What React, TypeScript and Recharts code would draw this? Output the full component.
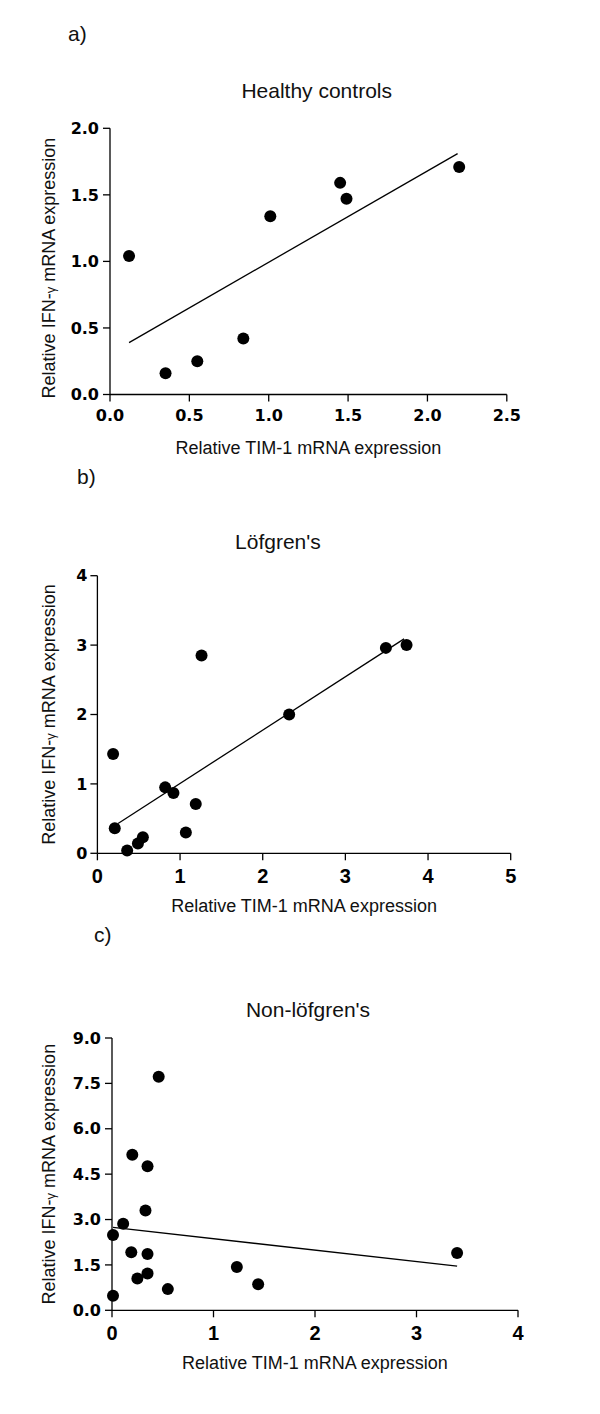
import React from 'react'
import { ScatterChart, Scatter, XAxis, YAxis, ReferenceLine } from 'recharts'

document.body.style.margin = '0'
document.body.style.background = '#fff'

// a) Healthy controls
const healthyTim = [0.12, 0.35, 0.55, 0.84, 1.01, 1.45, 1.49, 2.2]
const healthyIfn = [1.04, 0.16, 0.25, 0.42, 1.34, 1.59, 1.47, 1.71]
const healthyFitX = [0.12, 2.19]
const healthyFitY = [0.39, 1.81]

// b) Löfgren's
const lofgrenTim = [0.19, 0.21, 0.36, 0.49, 0.55, 0.82, 0.92, 1.07, 1.19, 1.26, 2.32, 3.49, 3.74]
const lofgrenIfn = [1.43, 0.36, 0.04, 0.14, 0.23, 0.95, 0.87, 0.3, 0.71, 2.85, 2.0, 2.96, 3.0]
const lofgrenFitX = [0.25, 3.71]
const lofgrenFitY = [0.43, 3.09]

// c) Non-löfgren's
const nonLofgrenTim = [0.46, 0.2, 0.35, 0.33, 0.11, 0.01, 0.19, 0.35, 0.35, 0.25, 0.55, 0.01, 1.23, 1.44, 3.4]
const nonLofgrenIfn = [7.72, 5.14, 4.76, 3.3, 2.86, 2.49, 1.92, 1.86, 1.22, 1.05, 0.7, 0.48, 1.43, 0.86, 1.89]
const nonLofgrenFitX = [0.01, 3.4]
const nonLofgrenFitY = [2.74, 1.46]

const healthyXTicks = [0, 0.5, 1, 1.5, 2, 2.5]
const healthyYTicks = [0, 0.5, 1, 1.5, 2]
const lofgrenXTicks = [0, 1, 2, 3, 4, 5]
const lofgrenYTicks = [0, 1, 2, 3, 4]
const nonLofgrenXTicks = [0, 1, 2, 3, 4]
const nonLofgrenYTicks = [0, 1.5, 3, 4.5, 6, 7.5, 9]

const zip = (xs: number[], ys: number[]) => xs.map((x, i) => ({ x, y: ys[i] }))

const SANS = '"Liberation Sans", Arial, sans-serif'
const WIDE_BOLD = '"DejaVu Sans", sans-serif'
const AXIS_STROKE = { stroke: '#000', strokeWidth: 1.3 }

const Dot = (props: any) => <circle cx={props.cx} cy={props.cy} r={6} fill="#000" />

interface TickFont {
  family: string
  size: number
}

interface PanelProps {
  top: number
  height: number
  plot: { left: number; right: number; top: number; bottom: number }
  xMax: number
  yMax: number
  xTicks: number[]
  yTicks: number[]
  decimals: number
  xFont: TickFont
  yFont: TickFont
  yTickMargin: number
  yTitleShift: number
  points: { x: number; y: number }[]
  fit: { x: number; y: number }[]
}

function Panel(p: PanelProps) {
  const fmtX = (v: number) => (p.decimals ? v.toFixed(1) : String(v))
  const fmtY = (v: number) => (p.yTicks[1] % 1 ? v.toFixed(1) : String(v))
  return (
    <div style={{ position: 'absolute', left: 0, top: p.top }}>
      <ScatterChart
        width={600}
        height={p.height}
        margin={{
          top: p.plot.top,
          right: 600 - p.plot.right,
          left: p.plot.left - 60,
          bottom: p.height - p.plot.bottom - 40,
        }}
      >
        <XAxis
          type="number"
          dataKey="x"
          domain={[0, p.xMax]}
          ticks={p.xTicks}
          tickFormatter={fmtX}
          height={40}
          tickSize={7}
          tickMargin={8}
          axisLine={AXIS_STROKE}
          tickLine={AXIS_STROKE}
          tick={{ fill: '#000', fontSize: p.xFont.size, fontFamily: p.xFont.family, fontWeight: 'bold' }}
          label={{
            content: ({ viewBox }: any) => (
              <text
                x={viewBox.x + viewBox.width / 2}
                y={viewBox.y + 59}
                textAnchor="middle"
                fontFamily={SANS}
                fontSize={18}
                fill="#111"
              >
                Relative TIM-1 mRNA expression
              </text>
            ),
          }}
        />
        <YAxis
          type="number"
          dataKey="y"
          domain={[0, p.yMax]}
          ticks={p.yTicks}
          tickFormatter={fmtY}
          width={60}
          tickSize={7}
          tickMargin={p.yTickMargin}
          axisLine={AXIS_STROKE}
          tickLine={AXIS_STROKE}
          tick={{ fill: '#000', fontSize: p.yFont.size, fontFamily: p.yFont.family, fontWeight: 'bold' }}
          label={{
            content: ({ viewBox }: any) => {
              const cy = viewBox.y + viewBox.height / 2 + p.yTitleShift
              return (
                <text
                  x={55}
                  y={cy}
                  transform={`rotate(-90 55 ${cy})`}
                  textAnchor="middle"
                  fontFamily={SANS}
                  fontSize={18}
                  fill="#111"
                >
                  Relative IFN-<tspan fontSize={13}>γ</tspan> mRNA expression
                </text>
              )
            },
          }}
        />
        <ReferenceLine segment={p.fit} stroke="#000" strokeWidth={1.3} />
        <Scatter data={p.points} shape={Dot} isAnimationActive={false} />
      </ScatterChart>
    </div>
  )
}

export default function App() {
  const smallBold = { family: WIDE_BOLD, size: 16 }
  const bigBold = { family: SANS, size: 20 }
  return (
    <div style={{ position: 'relative', width: 600, height: 1414, background: '#fff' }}>
      <Panel
        top={0}
        height={470}
        plot={{ left: 110, right: 506.8, top: 128.3, bottom: 394.5 }}
        xMax={2.5}
        yMax={2}
        xTicks={healthyXTicks}
        yTicks={healthyYTicks}
        decimals={1}
        xFont={smallBold}
        yFont={smallBold}
        yTickMargin={4}
        yTitleShift={6.7}
        points={zip(healthyTim, healthyIfn)}
        fit={zip(healthyFitX, healthyFitY)}
      />
      <Panel
        top={470}
        height={460}
        plot={{ left: 97.4, right: 510.7, top: 105.7, bottom: 383.3 }}
        xMax={5}
        yMax={4}
        xTicks={lofgrenXTicks}
        yTicks={lofgrenYTicks}
        decimals={0}
        xFont={bigBold}
        yFont={smallBold}
        yTickMargin={3}
        yTitleShift={0}
        points={zip(lofgrenTim, lofgrenIfn)}
        fit={zip(lofgrenFitX, lofgrenFitY)}
      />
      <Panel
        top={930}
        height={484}
        plot={{ left: 112, right: 518, top: 108, bottom: 380.3 }}
        xMax={4}
        yMax={9}
        xTicks={nonLofgrenXTicks}
        yTicks={nonLofgrenYTicks}
        decimals={0}
        xFont={bigBold}
        yFont={smallBold}
        yTickMargin={4}
        yTitleShift={0}
        points={zip(nonLofgrenTim, nonLofgrenIfn)}
        fit={zip(nonLofgrenFitX, nonLofgrenFitY)}
      />
      <svg
        width={600}
        height={1414}
        style={{ position: 'absolute', left: 0, top: 0, pointerEvents: 'none' }}
        fontFamily={SANS}
        fill="#111"
      >
        <text x={68} y={41} fontSize={21}>a)</text>
        <text x={77} y={484} fontSize={21}>b)</text>
        <text x={94} y={942} fontSize={21}>c)</text>
        <text x={316.7} y={98.3} fontSize={21} textAnchor="middle">Healthy controls</text>
        <text x={277.9} y={549.3} fontSize={21} textAnchor="middle">Löfgren's</text>
        <text x={308} y={1016.7} fontSize={21} textAnchor="middle">Non-löfgren's</text>
      </svg>
    </div>
  )
}
